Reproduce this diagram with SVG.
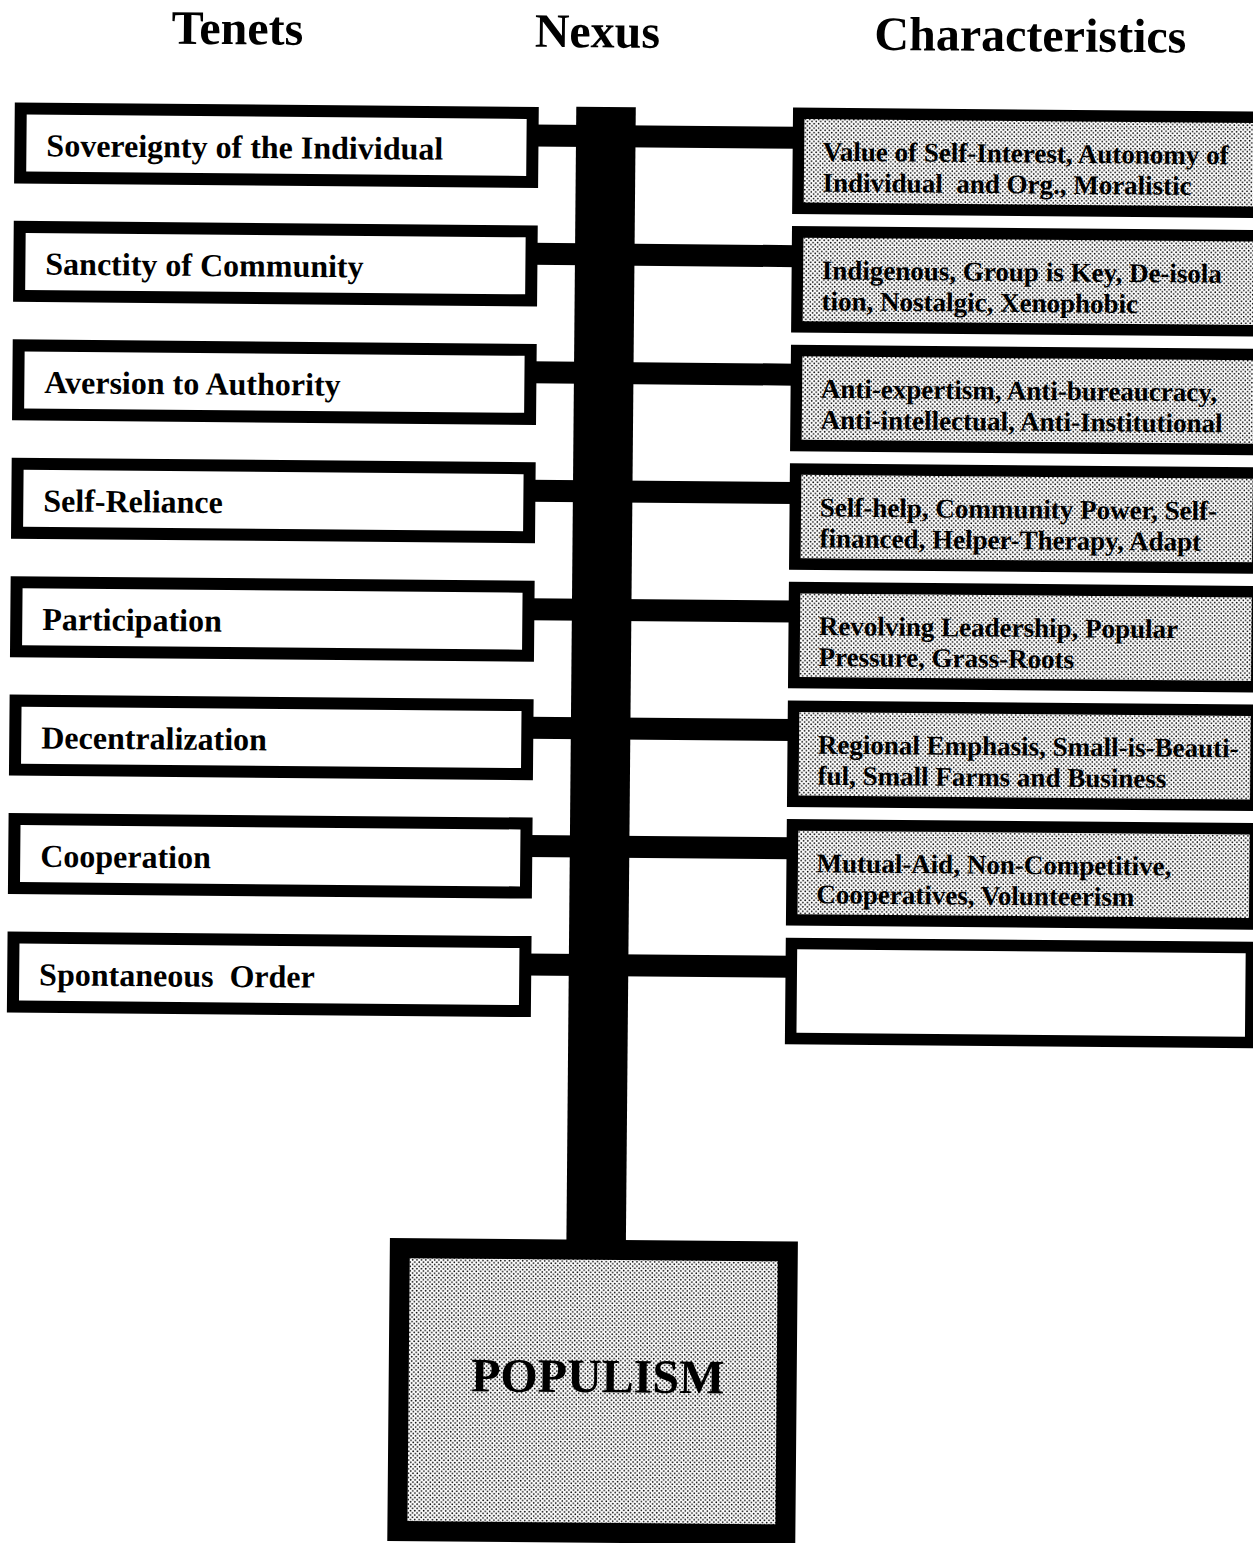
<svg xmlns="http://www.w3.org/2000/svg" width="1253" height="1543" viewBox="0 0 1253 1543">
  <defs>
    <style>
      .title { font-family: "Liberation Serif", "Times New Roman", serif; font-weight: bold; font-size: 48px; text-anchor: middle; fill: #000; }
      .tenet-box { fill: #fff; stroke: #000; stroke-width: 12; }
      .tenet { font-family: "Liberation Serif", "Times New Roman", serif; font-weight: bold; font-size: 32px; fill: #000; }
      .char-box { fill: url(#halftone); stroke: #000; stroke-width: 11.5; }
      .char-box.empty { fill: #fff; }
      .char { font-family: "Liberation Serif", "Times New Roman", serif; font-weight: bold; font-size: 27px; fill: #000; }
      .bar { fill: #000; }
      .core-box { fill: url(#halftone); stroke: #000; stroke-width: 20; }
      .core { font-family: "Liberation Serif", "Times New Roman", serif; font-weight: bold; font-size: 48px; text-anchor: middle; fill: #000; }
    </style>
    <!-- fine dot screen used for the shaded boxes -->
    <pattern id="halftone" width="4.4" height="4.4" patternUnits="userSpaceOnUse">
      <rect width="4.4" height="4.4" fill="#fff"/>
      <circle cx="1.1" cy="1.1" r="0.85" fill="#000"/>
      <circle cx="3.3" cy="3.3" r="0.85" fill="#000"/>
    </pattern>
  </defs>

  <rect width="1253" height="1543" fill="#fff"/>

  <g transform="rotate(0.5 626 771)">
    <!-- column headings -->
    <g id="headings">
      <text class="title" x="231" y="47.7">Tenets</text>
      <text class="title" x="591" y="47.7">Nexus</text>
      <text class="title" x="1024" y="47.7">Characteristics</text>
    </g>

    <!-- trunk and the horizontal bars joining each tenet to its characteristics -->
    <g id="connectors">
      <rect class="bar" x="570.5" y="107.2" width="59.5" height="1140"/>
      <rect class="bar" x="527" y="125.3" width="266" height="22"/>
      <rect class="bar" x="527" y="243.7" width="266" height="22"/>
      <rect class="bar" x="527" y="362.2" width="266" height="22"/>
      <rect class="bar" x="527" y="480.6" width="266" height="22"/>
      <rect class="bar" x="527" y="599.1" width="266" height="22"/>
      <rect class="bar" x="527" y="717.5" width="266" height="22"/>
      <rect class="bar" x="527" y="835.9" width="266" height="22"/>
      <rect class="bar" x="527" y="954.4" width="266" height="22"/>
    </g>

    <!-- tenets (left column) -->
    <g id="tenet-sovereignty">
      <rect class="tenet-box" x="15" y="113.8" width="512" height="69"/>
      <text class="tenet" x="41" y="161.3">Sovereignty of the Individual</text>
    </g>
    <g id="tenet-sanctity">
      <rect class="tenet-box" x="15" y="232.2" width="512" height="69"/>
      <text class="tenet" x="41" y="279.7">Sanctity of Community</text>
    </g>
    <g id="tenet-aversion">
      <rect class="tenet-box" x="15" y="350.7" width="512" height="69"/>
      <text class="tenet" x="41" y="398.2">Aversion to Authority</text>
    </g>
    <g id="tenet-self-reliance">
      <rect class="tenet-box" x="15" y="469.1" width="512" height="69"/>
      <text class="tenet" x="41" y="516.6">Self-Reliance</text>
    </g>
    <g id="tenet-participation">
      <rect class="tenet-box" x="15" y="587.6" width="512" height="69"/>
      <text class="tenet" x="41" y="635.1">Participation</text>
    </g>
    <g id="tenet-decentralization">
      <rect class="tenet-box" x="15" y="706" width="512" height="69"/>
      <text class="tenet" x="41" y="753.5">Decentralization</text>
    </g>
    <g id="tenet-cooperation">
      <rect class="tenet-box" x="15" y="824.4" width="512" height="69"/>
      <text class="tenet" x="41" y="871.9">Cooperation</text>
    </g>
    <g id="tenet-spontaneous-order">
      <rect class="tenet-box" x="15" y="942.9" width="512" height="69"/>
      <text class="tenet" x="41" y="990.4" xml:space="preserve">Spontaneous  Order</text>
    </g>

    <!-- characteristics (right column) -->
    <g id="char-sovereignty">
      <rect class="char-box" x="793" y="111.8" width="463" height="95"/>
      <text class="char" x="817.5" y="159">Value of Self-Interest, Autonomy of</text>
      <text class="char" x="817.5" y="190" xml:space="preserve">Individual  and Org., Moralistic</text>
    </g>
    <g id="char-sanctity">
      <rect class="char-box" x="793" y="230.4" width="463" height="95"/>
      <text class="char" x="817.5" y="277.6">Indigenous, Group is Key, De-isola</text>
      <text class="char" x="817.5" y="308.6">tion, Nostalgic, Xenophobic</text>
    </g>
    <g id="char-aversion">
      <rect class="char-box" x="793" y="349" width="463" height="95"/>
      <text class="char" x="817.5" y="396.2">Anti-expertism, Anti-bureaucracy,</text>
      <text class="char" x="817.5" y="427.2">Anti-intellectual, Anti-Institutional</text>
    </g>
    <g id="char-self-reliance">
      <rect class="char-box" x="793" y="467.6" width="463" height="95"/>
      <text class="char" x="817.5" y="514.8">Self-help, Community Power, Self-</text>
      <text class="char" x="817.5" y="545.8">financed, Helper-Therapy, Adapt</text>
    </g>
    <g id="char-participation">
      <rect class="char-box" x="793" y="586.2" width="463" height="95"/>
      <text class="char" x="817.5" y="633.4">Revolving Leadership, Popular</text>
      <text class="char" x="817.5" y="664.4">Pressure, Grass-Roots</text>
    </g>
    <g id="char-decentralization">
      <rect class="char-box" x="793" y="704.8" width="463" height="95"/>
      <text class="char" x="817.5" y="752">Regional Emphasis, Small-is-Beauti-</text>
      <text class="char" x="817.5" y="783">ful, Small Farms and Business</text>
    </g>
    <g id="char-cooperation">
      <rect class="char-box" x="793" y="823.4" width="463" height="95"/>
      <text class="char" x="817.5" y="870.6">Mutual-Aid, Non-Competitive,</text>
      <text class="char" x="817.5" y="901.6">Cooperatives, Volunteerism</text>
    </g>
    <g id="char-spontaneous-order">
      <rect class="char-box empty" x="793" y="942" width="460" height="95"/>
    </g>

    <!-- root node -->
    <g id="populism">
      <rect class="core-box" x="404" y="1250" width="388" height="283"/>
      <text class="core" x="603" y="1392.5">POPULISM</text>
    </g>
  </g>
</svg>
